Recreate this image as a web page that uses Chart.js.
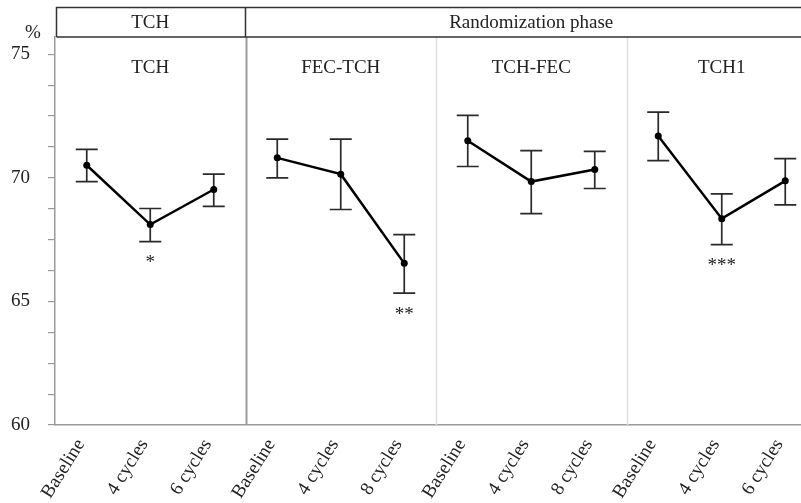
<!DOCTYPE html>
<html lang="en">
<head>
    <meta charset="UTF-8">
    <title>Randomization phase chart</title>
    <script src="https://cdn.jsdelivr.net/npm/chart.js"></script>
    <style>
        html, body { margin: 0; padding: 0; overflow: hidden; background: #fff; }
        canvas { display: block; }
    </style>
</head>
<body>
    <canvas id="phaseChart" width="840" height="503"></canvas>

    <script>
        // categories (12 x positions, 4 panels of 3)
        const xLabels = ['Baseline', '4 cycles', '6 cycles',
                         'Baseline', '4 cycles', '8 cycles',
                         'Baseline', '4 cycles', '8 cycles',
                         'Baseline', '4 cycles', '6 cycles'];
        const panelNames = ['TCH', 'FEC-TCH', 'TCH-FEC', 'TCH1'];
        const headerNames = ['TCH', 'Randomization phase'];

        // means and error bar ends per panel
        const tchMean    = [70.51, 68.11, 69.53];
        const fecTchMean = [70.81, 70.15, 66.54];
        const tchFecMean = [71.50, 69.85, 70.34];
        const tch1Mean   = [71.69, 68.35, 69.88];

        const tchHigh    = [71.15, 68.76, 70.15];
        const fecTchHigh = [71.57, 71.57, 67.70];
        const tchFecHigh = [72.53, 71.10, 71.07];
        const tch1High   = [72.66, 69.35, 70.78];

        const tchLow     = [69.85, 67.42, 68.85];
        const fecTchLow  = [70.00, 68.72, 65.34];
        const tchFecLow  = [70.46, 68.55, 69.57];
        const tch1Low    = [70.70, 67.30, 68.91];

        // significance marks under each point
        const stars = ['', '*', '', '', '', '**', '', '', '', '', '***', ''];

        // y axis
        const yLabels = [60, 65, 70, 75];
        const yMinorStep = 1.25;

        const means = [tchMean, fecTchMean, tchFecMean, tch1Mean];
        const highs = [].concat(tchHigh, fecTchHigh, tchFecHigh, tch1High);
        const lows = [].concat(tchLow, fecTchLow, tchFecLow, tch1Low);

        // one dataset per panel, nulls elsewhere so panels don't connect
        const datasets = means.map((m, p) => {
            const row = xLabels.map(() => null);
            m.forEach((v, i) => { row[p * 3 + i] = v; });
            return {
                label: panelNames[p],
                data: row,
                borderColor: '#000',
                backgroundColor: '#000',
                borderWidth: 2.5,
                pointRadius: 3.5,
                pointBackgroundColor: '#000',
                pointBorderWidth: 0,
                spanGaps: false,
                tension: 0
            };
        });

        const serif = '"Liberation Serif", "Times New Roman", serif';

        const decor = {
            id: 'decor',
            beforeDatasetsDraw(chart) {
                const { ctx, chartArea: a, scales: { x, y } } = chart;
                ctx.save();
                // panel dividers
                [2.5, 5.5, 8.5].forEach((v, i) => {
                    const px = Math.round(x.getPixelForValue(v)) + 0.5;
                    ctx.strokeStyle = i === 0 ? '#9a9a9a' : '#dedede';
                    ctx.lineWidth = i === 0 ? 2 : 1.5;
                    ctx.beginPath();
                    ctx.moveTo(px, a.top);
                    ctx.lineTo(px, a.bottom);
                    ctx.stroke();
                });
                // error bars
                ctx.strokeStyle = '#2a2a2a';
                ctx.lineWidth = 1.7;
                highs.forEach((h, i) => {
                    const px = x.getPixelForValue(i);
                    const yh = y.getPixelForValue(h);
                    const yl = y.getPixelForValue(lows[i]);
                    ctx.beginPath();
                    ctx.moveTo(px, yh); ctx.lineTo(px, yl);
                    ctx.moveTo(px - 11, yh); ctx.lineTo(px + 11, yh);
                    ctx.moveTo(px - 11, yl); ctx.lineTo(px + 11, yl);
                    ctx.stroke();
                });
                ctx.restore();
            },
            afterDraw(chart) {
                const { ctx, chartArea: a, scales: { x, y } } = chart;
                ctx.save();
                ctx.fillStyle = '#222';
                ctx.textAlign = 'center';
                ctx.textBaseline = 'middle';
                ctx.font = '19px ' + serif;
                // panel titles
                panelNames.forEach((n, p) => {
                    ctx.fillText(n, x.getPixelForValue(p * 3 + 1), 68);
                });
                // header boxes
                const split = x.getPixelForValue(2.5);
                const hTop = 7.5, hBot = a.top;
                ctx.strokeStyle = '#333';
                ctx.lineWidth = 1.5;
                ctx.beginPath();
                ctx.moveTo(a.left + 1.5, hBot); ctx.lineTo(a.left + 1.5, hTop);
                ctx.lineTo(a.right + 5, hTop);
                ctx.moveTo(a.left + 1.5, hBot); ctx.lineTo(a.right + 5, hBot);
                ctx.moveTo(split, hTop); ctx.lineTo(split, hBot);
                ctx.stroke();
                ctx.fillText(headerNames[0], (a.left + split) / 2, 23);
                ctx.fillText(headerNames[1], (split + a.right) / 2, 23);
                // % unit
                ctx.fillText('%', 33, 33);
                // significance stars
                ctx.textBaseline = 'top';
                ctx.font = '19px ' + serif;
                stars.forEach((s, i) => {
                    if (!s) return;
                    ctx.fillText(s, x.getPixelForValue(i), y.getPixelForValue(lows[i]) + 12);
                });
                ctx.restore();
            }
        };

        const ctx = document.getElementById('phaseChart').getContext('2d');
        const chart = new Chart(ctx, {
            type: 'line',
            data: { labels: xLabels, datasets: datasets },
            options: {
                responsive: false,
                animation: false,
                devicePixelRatio: 1,
                layout: { padding: { top: 37, right: 23, bottom: 0, left: 0 } },
                plugins: { legend: { display: false }, tooltip: { enabled: false } },
                scales: {
                    x: {
                        type: 'category',
                        offset: true,
                        grid: { display: false, drawTicks: false },
                        border: { display: true, color: '#999', width: 1.5 },
                        ticks: {
                            autoSkip: false,
                            minRotation: 58,
                            maxRotation: 58,
                            padding: 10,
                            labelOffset: -6,
                            color: '#222',
                            font: { family: serif, size: 19 }
                        },
                        afterFit(scale) { scale.height = 78; }
                    },
                    y: {
                        min: 60,
                        max: 75.7,
                        grid: { drawOnChartArea: false, drawTicks: true, tickLength: 7, color: '#999', lineWidth: 1.2 },
                        border: { display: true, color: '#999', width: 1.5 },
                        afterBuildTicks(scale) {
                            const t = [];
                            for (let v = 60; v <= 75; v += yMinorStep) t.push({ value: v });
                            scale.ticks = t;
                        },
                        ticks: {
                            padding: 18,
                            color: '#222',
                            font: { family: serif, size: 19 },
                            callback: v => yLabels.includes(v) ? v : ''
                        },
                        afterFit(scale) { scale.width = 55; }
                    }
                }
            },
            plugins: [decor]
        });
    </script>
</body>
</html>
